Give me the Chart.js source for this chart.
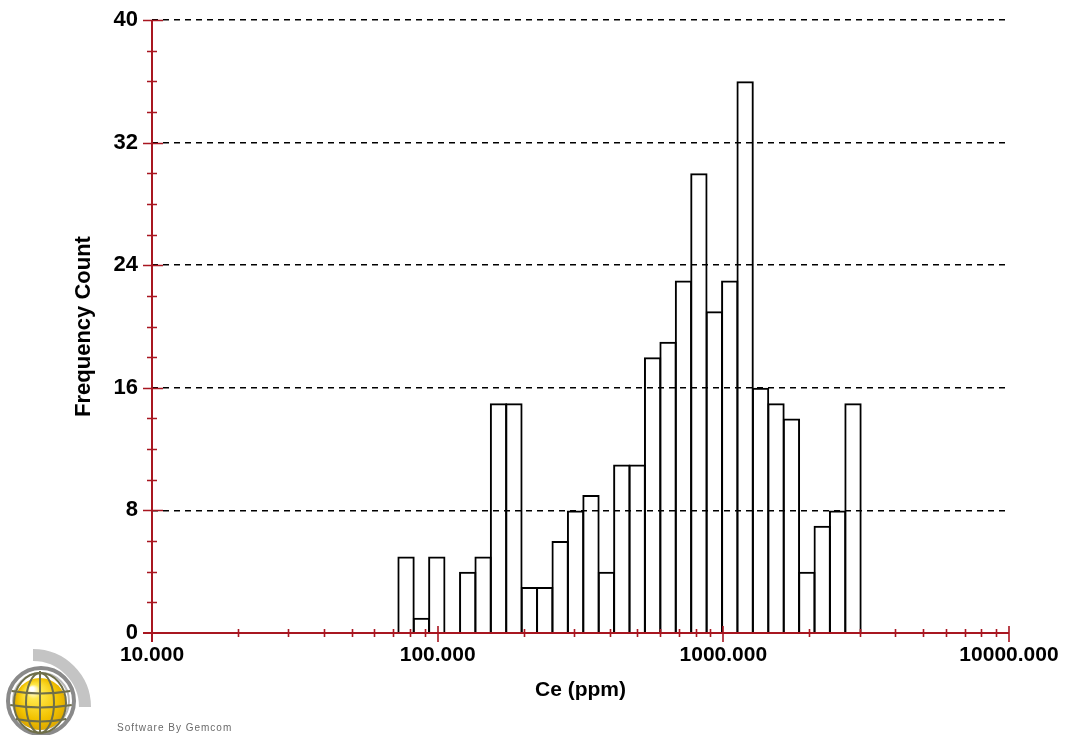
<!DOCTYPE html>
<html>
<head>
<meta charset="utf-8">
<title>Ce (ppm) – Frequency Histogram</title>
<script src="https://cdn.jsdelivr.net/npm/chart.js@4.4.1/dist/chart.umd.min.js"></script>
<style>
  html, body { margin: 0; padding: 0; background: #ffffff; }
  #wrap { width: 1066px; height: 735px; position: relative; }
</style>
</head>
<body>
<div id="wrap"><canvas id="hist" width="1066" height="735"></canvas></div>
<script>
// Histogram bins (geometric bin centres, ppm) and their counts
const binCenters = [77.5, 87.7, 99.3, 112.5, 127.4, 144.2, 163.3, 184.9, 209.4, 237.0,
                    268.4, 303.9, 344.1, 389.6, 441.1, 499.5, 565.5, 640.4, 725.2, 821.2,
                    929.9, 1053, 1192, 1350, 1529, 1731, 1960, 2219, 2512, 2844];
const counts = [5, 1, 5, 0, 4, 5, 15, 15, 3, 3,
                6, 8, 9, 4, 11, 11, 18, 19, 23, 30,
                21, 23, 36, 16, 15, 14, 4, 7, 8, 15];

// Axis tick values
const xMajorTicks = [10, 100, 1000, 10000];
const xMinorTicks = [20, 30, 40, 50, 60, 70, 80, 90,
                     200, 300, 400, 500, 600, 700, 800, 900,
                     2000, 3000, 4000, 5000, 6000, 7000, 8000, 9000];
const yMajorTicks = [0, 8, 16, 24, 32, 40];
const yMinorTicks = [2, 4, 6, 10, 12, 14, 18, 20, 22, 26, 28, 30, 34, 36, 38];

const AXIS_RED = '#a81620';
const FONT = 'Arial, "Liberation Sans", Helvetica, sans-serif';

// Red axes with tick marks crossing the axis line
const axesPlugin = {
  id: 'redAxes',
  afterDatasetsDraw(chart) {
    const { ctx, chartArea: a, scales: { x, y } } = chart;
    ctx.save();
    ctx.strokeStyle = AXIS_RED;
    ctx.lineCap = 'butt';

    // axis lines
    ctx.lineWidth = 2;
    ctx.beginPath();
    ctx.moveTo(a.left, a.top);
    ctx.lineTo(a.left, a.bottom + 9);
    ctx.moveTo(a.left - 9, a.bottom);
    ctx.lineTo(a.right, a.bottom);
    ctx.stroke();

    ctx.lineWidth = 1.6;
    ctx.beginPath();
    yMinorTicks.forEach(v => {
      const py = Math.round(y.getPixelForValue(v)) + 0.5;
      ctx.moveTo(a.left - 5, py);
      ctx.lineTo(a.left + 5, py);
    });
    yMajorTicks.forEach(v => {
      if (v === 0) return;
      const py = Math.round(y.getPixelForValue(v)) + 0.5;
      ctx.moveTo(a.left - 9, py);
      ctx.lineTo(a.left + 11, py);
    });
    xMinorTicks.forEach(v => {
      const px = Math.round(x.getPixelForValue(v)) + 0.5;
      ctx.moveTo(px, a.bottom - 4);
      ctx.lineTo(px, a.bottom + 4);
    });
    xMajorTicks.forEach(v => {
      if (v === xMajorTicks[0]) return;
      const px = Math.round(x.getPixelForValue(v));
      ctx.moveTo(px, a.bottom - 7);
      ctx.lineTo(px, a.bottom + 9);
    });
    ctx.stroke();
    ctx.restore();
  }
};

// Vendor mark and credit line in the lower-left corner
const logoPlugin = {
  id: 'vendorMark',
  afterDraw(chart) {
    const ctx = chart.ctx;
    ctx.save();

    // grey quarter arc behind the globe
    ctx.strokeStyle = '#c4c4c4';
    ctx.lineWidth = 12;
    ctx.beginPath();
    ctx.arc(33, 707, 52, -Math.PI / 2, 0);
    ctx.stroke();

    const cx = 41, cy = 701, r = 35;
    // white backing + outer grey frame
    ctx.fillStyle = '#ffffff';
    ctx.beginPath(); ctx.arc(cx, cy, r, 0, Math.PI * 2); ctx.fill();
    ctx.strokeStyle = '#8a8a8a';
    ctx.lineWidth = 4;
    ctx.beginPath(); ctx.arc(cx, cy, r - 2, 0, Math.PI * 2); ctx.stroke();
    ctx.strokeStyle = '#b8b8b8';
    ctx.lineWidth = 2;
    ctx.beginPath(); ctx.arc(cx, cy, r - 7, 0, Math.PI * 2); ctx.stroke();

    // yellow sphere
    const g = ctx.createRadialGradient(cx - 9, cy - 12, 2, cx, cy + 2, 28);
    g.addColorStop(0, '#ffffff');
    g.addColorStop(0.2, '#ffe84a');
    g.addColorStop(0.7, '#f2c200');
    g.addColorStop(1, '#d9a400');
    ctx.fillStyle = g;
    ctx.beginPath(); ctx.arc(cx - 1, cy + 3, 26, 0, Math.PI * 2); ctx.fill();

    // lat/long grid
    ctx.strokeStyle = '#6f6f4a';
    ctx.lineWidth = 2;
    ctx.beginPath();
    ctx.moveTo(cx - 1, cy - r + 5); ctx.lineTo(cx - 1, cy + r - 3);
    ctx.stroke();
    ctx.beginPath();
    ctx.ellipse(cx - 1, cy + 2, 14, r - 5, 0, 0, Math.PI * 2);
    ctx.stroke();
    ctx.beginPath();
    ctx.ellipse(cx - 1, cy + 2, 26, r - 5, 0, 0, Math.PI * 2);
    ctx.stroke();
    [-10, 4, 18].forEach(dy => {
      const half = Math.sqrt(Math.max(0, (r - 4) * (r - 4) - dy * dy));
      ctx.beginPath();
      ctx.moveTo(cx - half, cy + dy);
      ctx.quadraticCurveTo(cx, cy + dy + 5, cx + half, cy + dy);
      ctx.stroke();
    });

    // credit line
    ctx.fillStyle = '#6a6a6a';
    ctx.font = '10px ' + FONT;
    ctx.textBaseline = 'middle';
    if ('letterSpacing' in ctx) ctx.letterSpacing = '1px';
    ctx.fillText('Software By Gemcom', 117, 728);
    ctx.restore();
  }
};

const ctx = document.getElementById('hist').getContext('2d');
new Chart(ctx, {
  type: 'bar',
  data: {
    datasets: [{
      label: 'Ce (ppm)',
      data: binCenters.map((c, i) => ({ x: c, y: counts[i] })),
      backgroundColor: 'rgba(255,255,255,0)',
      borderColor: '#000000',
      borderWidth: (c) => (c.raw && c.raw.y === 0 ? 0 : 2),
      borderSkipped: 'bottom',
      categoryPercentage: 1.0,
      barPercentage: 1.13
    }]
  },
  plugins: [axesPlugin, logoPlugin],
  options: {
    responsive: false,
    animation: false,
    devicePixelRatio: 1,
    layout: { padding: { top: 20, right: 57, bottom: 0, left: 0 } },
    plugins: {
      legend: { display: false },
      tooltip: { enabled: false },
      title: { display: false }
    },
    scales: {
      x: {
        type: 'logarithmic',
        min: 10,
        max: 10000,
        offset: false,
        grid: { display: false, offset: false, drawTicks: false },
        border: { display: false },
        afterBuildTicks: (s) => { s.ticks = xMajorTicks.map(v => ({ value: v, major: true })); },
        afterFit: (s) => { s.height = 102; s.paddingLeft = 0; s.paddingRight = 0; },
        ticks: {
          autoSkip: false,
          maxRotation: 0,
          padding: 10,
          color: '#000000',
          font: { family: FONT, size: 21, weight: 'bold' },
          callback: (v) => Number(v).toFixed(3)
        },
        title: {
          display: true,
          text: 'Ce (ppm)',
          color: '#000000',
          font: { family: FONT, size: 21, weight: 'bold' },
          padding: { top: 0, bottom: 32 }
        }
      },
      y: {
        type: 'linear',
        min: 0,
        max: 40,
        afterBuildTicks: (s) => { s.ticks = yMajorTicks.map(v => ({ value: v })); },
        afterFit: (s) => { s.width = 152; s.paddingTop = 0; s.paddingBottom = 0; },
        grid: {
          drawTicks: false,
          color: (c) => (c.tick && c.tick.value === 0 ? 'rgba(0,0,0,0)' : '#000000'),
          lineWidth: 1.5
        },
        border: { display: false, dash: [6, 5] },
        ticks: {
          padding: 14,
          color: '#000000',
          font: { family: FONT, size: 22, weight: 'bold' }
        },
        title: {
          display: true,
          text: 'Frequency Count',
          color: '#000000',
          font: { family: FONT, size: 22, weight: 'bold' },
          padding: { top: 71, bottom: 0 }
        }
      }
    }
  }
});
</script>
</body>
</html>
